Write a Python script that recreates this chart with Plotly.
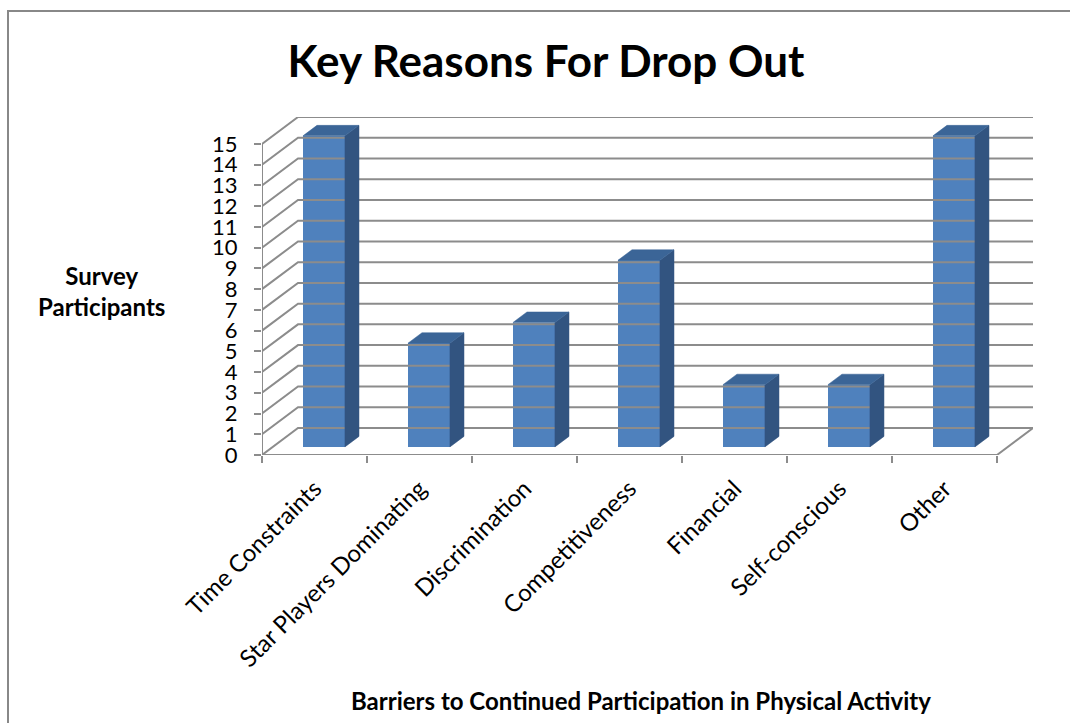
import plotly.graph_objects as go

categories = ["Time Constraints", "Star Players Dominating", "Discrimination",
              "Competitiveness", "Financial", "Self-conscious", "Other"]
values = [15, 5, 6, 9, 3, 3, 15]
y_ticks = list(range(0, 16))

# pseudo-3D geometry (axis units)
DX, DY = 0.343, 1.30      # depth offset of the back wall
F1, F2 = 0.30, 0.69       # bar depth start / end fraction
BAR_X0, BAR_W = 0.39, 0.40
n = len(categories)

FRONT = "#4f81bd"
TOP = "#3b6597"
SIDE = "#325480"
GRID = "#8c8c8c"
FONT = "Lato"

fig = go.Figure()

# back-wall gridlines with diagonal from the front axis
gx, gy = [], []
for v in y_ticks:
    gx += [0, DX, n + DX, None]
    gy += [v, v + DY, v + DY, None]
fig.add_trace(go.Scatter(x=gx, y=gy, mode="lines", line=dict(color=GRID, width=2),
                         hoverinfo="skip", showlegend=False))
# front axis lines + floor edge
fig.add_trace(go.Scatter(x=[0, 0, None, 0, n, n + DX], y=[y_ticks[-1], 0, None, 0, 0, DY],
                         mode="lines", line=dict(color=GRID, width=2),
                         hoverinfo="skip", showlegend=False))

# side and top faces
b = F1 * DY
d = (F2 - F1) * DX
e = (F2 - F1) * DY
sx, sy, tx, ty = [], [], [], []
for i, v in enumerate(values):
    x0 = i + BAR_X0
    x1 = x0 + BAR_W
    sx += [x1, x1, x1 + d, x1 + d, x1, None]
    sy += [b, v + b, v + b + e, b + e, b, None]
    tx += [x0, x1, x1 + d, x0 + d, x0, None]
    ty += [v + b, v + b, v + b + e, v + b + e, v + b, None]
fig.add_trace(go.Scatter(x=sx, y=sy, fill="toself", fillcolor=SIDE, mode="lines",
                         line=dict(color=SIDE, width=0.5), hoverinfo="skip", showlegend=False))
fig.add_trace(go.Scatter(x=tx, y=ty, fill="toself", fillcolor=TOP, mode="lines",
                         line=dict(color=TOP, width=0.5), hoverinfo="skip", showlegend=False))

# front faces
fig.add_trace(go.Bar(x=[i + BAR_X0 + BAR_W / 2 for i in range(n)], y=values, base=b,
                     width=BAR_W, marker=dict(color=FRONT, line=dict(width=0)),
                     showlegend=False, hoverinfo="skip"))

L, R, T, B = 262, 37, 117, 268
W = 1070 - L - R
H = 723 - T - B

def px(x):
    return (x - L) / W

def py(y):
    return (723 - B - y) / H

fig.update_layout(
    width=1070, height=723,
    margin=dict(l=L, r=R, t=T, b=B),
    paper_bgcolor="white", plot_bgcolor="white",
    font=dict(family=FONT, color="black"),
    title=dict(text="<b>Key Reasons For Drop Out</b>", x=546 / 1070, y=1 - 62 / 723,
               xanchor="center", yanchor="middle", xref="container", yref="container",
               font=dict(size=44, family=FONT, color="black")),
    xaxis=dict(range=[0, n + DX], tickvals=[i + 0.5 for i in range(n)], ticktext=categories,
               tickangle=-45, ticks="", showgrid=False, zeroline=False, showline=False,
               tickfont=dict(size=24, family=FONT, color="black"), ticklabelstandoff=14,
               minor=dict(tickvals=list(range(n + 1)), ticks="outside", ticklen=7,
                          tickwidth=2, tickcolor=GRID, showgrid=False)),
    yaxis=dict(range=[0, y_ticks[-1] + DY], tickvals=y_ticks, ticks="outside", ticklen=7,
               tickwidth=2, tickcolor=GRID, showgrid=False, zeroline=False, showline=False,
               tickfont=dict(size=22, family=FONT, color="black"), ticklabelstandoff=12),
    annotations=[
        dict(text="<b>Survey<br>Participants</b>", x=px(101), y=py(291), xref="paper", yref="paper",
             showarrow=False, xanchor="center", yanchor="middle", align="center",
             font=dict(size=24, family=FONT, color="black")),
        dict(text="<b>Barriers to Continued Participation in Physical Activity</b>",
             x=px(641), y=py(700), xref="paper", yref="paper", showarrow=False,
             xanchor="center", yanchor="middle", font=dict(size=24, family=FONT, color="black")),
    ],
    shapes=[dict(type="rect", xref="paper", yref="paper", x0=px(8), x1=px(1085),
                 y0=py(740), y1=py(11), line=dict(color="#888888", width=2),
                 fillcolor="rgba(0,0,0,0)", layer="below")],
    bargap=0,
)

fig.write_html("out.html")
